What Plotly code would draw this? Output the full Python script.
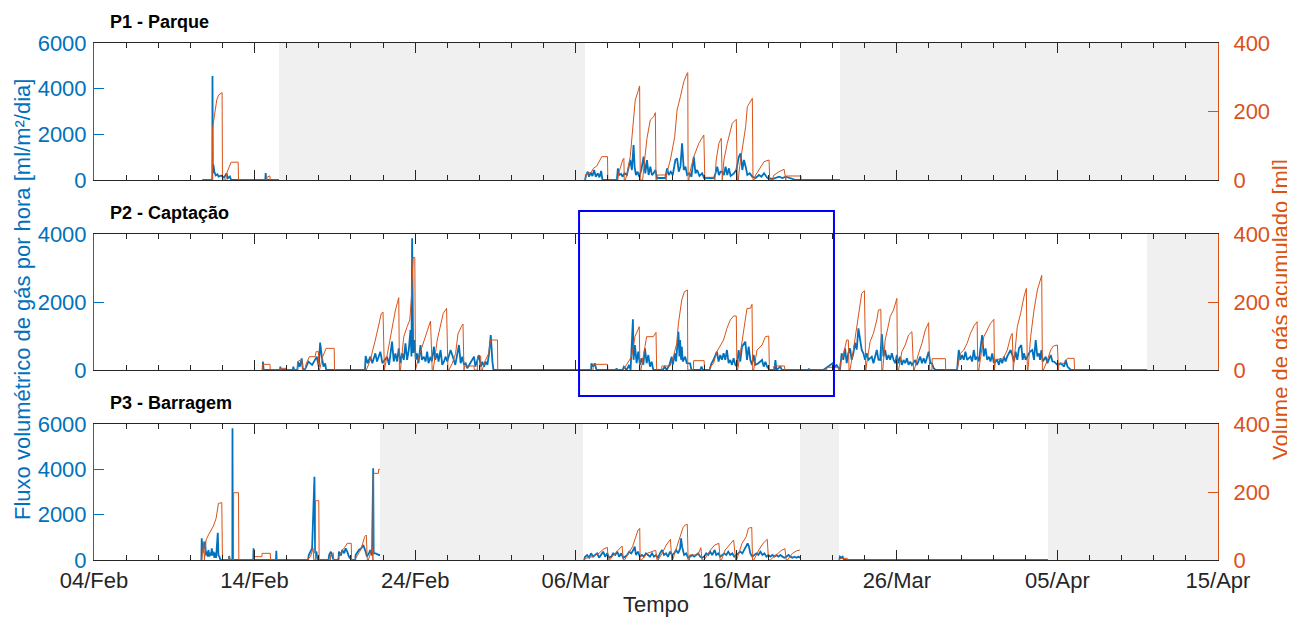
import pandas as pd
import plotly.graph_objects as go
from plotly.subplots import make_subplots

# ---------------- data (time = hours since 04/Feb 00:00) ----------------
START = "2019-02-04"
END_HOURS = 1680  # 15/Apr

panel_titles = ["P1 - Parque", "P2 - Captação", "P3 - Barragem"]
flux_ranges = [6000, 4000, 6000]
vol_range = 400

# P1 - accumulated volume [ml]
p1_vol = [(162, 0), (177, 0), (177.2, 151), (180.8, 204), (183.5, 234), (186.2, 248), (190.4, 255), (191.5, 255), (192, 0),
          (197, 0), (198.4, 20), (201.1, 34), (204.9, 52), (215.5, 52), (216, 0), (258, 0), (258.6, 8), (263, 12), (263.2, 0),
          (276.5, 0), (None, None),
          (734, 0), (736.5, 19.5), (743, 21.4), (746.5, 34.1), (751.5, 40.9), (756.5, 58.4), (759, 68.2), (767.5, 68.2), (768, 0),
          (783, 0), (784, 19.5), (788, 43.8), (790, 58.4), (792, 63.3), (792.5, 0),
          (794, 0), (796.5, 14.6), (801.5, 68.2), (806.5, 175.2), (809, 233.6), (813, 257.9), (815.5, 274.5), (816.5, 0),
          (820, 0), (823, 58.4), (826.5, 121.7), (831.5, 175.2), (836.5, 184.9), (839, 196.6), (840, 0),
          (841.5, 0), (842, 14.6), (854, 14.6), (855, 0),
          (856, 19.5), (861.5, 58.4), (868, 126.5), (871.5, 204.4), (876.5, 243.3), (881.5, 287.1), (886.5, 311.5), (887.5, 313.4), (888, 0),
          (889, 0), (891.5, 29.2), (896.5, 68.2), (904, 107.1), (911.5, 131.4), (913, 0),
          (914, 7.8), (926.5, 7.8), (927.5, 0),
          (928, 0), (930, 58.4), (934, 107.1), (937.5, 121.7), (938, 0),
          (939, 0), (941.5, 58.4), (946.5, 107.1), (954, 165.5), (960, 177.2), (961.5, 0),
          (963, 0), (965, 39), (969, 87.6), (974, 155.7), (976.5, 214.1), (981.5, 228.7), (984, 238.5), (985, 0),
          (986.5, 0), (989, 14.6), (994, 29.2), (1001.5, 53.5), (1009, 58.4), (1010, 0),
          (1013, 0), (1016.5, 14.6), (1024, 24.3), (1031.5, 31.2), (1034, 0),
          (1034.5, 11.7), (1056.5, 11.7), (1057, 0), (1115, 0)]

# P1 - hourly gas flux [ml/m2/dia]
p1_flux = [(162, 0), (176.8, 0), (177.1, 4550), (177.6, 300), (178.2, 686), (180, 350), (182, 200), (184.6, 250), (186.2, 150),
           (190, 200), (194.3, 100), (198, 292), (200, 80), (203, 150), (205, 0), (256, 0), (256.6, 300), (257.2, 0), (276.5, 0),
           (None, None),
           (734, 0), (735.5, 219), (738, 365), (740, 146), (742.5, 321), (745, 175), (747.5, 438), (750, 146), (753, 292),
           (755.5, 117), (758, 394), (760, 0), (781.5, 0), (783, 511), (785, 219), (788, 263), (790, 146), (793, 292),
           (796.5, 219), (799, 584), (801.5, 876), (804, 438), (806.5, 1533), (808, 584), (810, 219), (812.5, 365), (815, 146),
           (818, 438), (821.5, 1022), (824, 292), (826.5, 876), (829, 219), (831.5, 584), (834, 219), (836.5, 292), (839, 438),
           (841.5, 88), (854, 88), (856.5, 511), (859, 219), (862, 365), (865, 219), (869, 876), (871.5, 949), (874, 365),
           (876.5, 584), (879, 1606), (881.5, 438), (884, 584), (886.5, 219), (890, 292), (893, 146), (896.5, 1022), (899, 292),
           (901.5, 438), (905, 175), (909, 292), (912, 88), (926.5, 88), (929, 292), (931.5, 584), (934, 219), (936.5, 365),
           (939, 365), (941.5, 219), (944, 584), (946.5, 219), (949, 511), (951.5, 175), (956.5, 292), (960, 438), (964, 1022),
           (966.5, 1168), (969, 438), (971.5, 876), (974, 584), (976.5, 219), (980, 292), (984, 146), (989, 88), (994, 219),
           (997.5, 146), (1001.5, 292), (1006.5, 88), (1014, 44), (1024, 146), (1029, 88), (1034, 146), (1044, 44), (1049, 0),
           (1115, 0)]

# P2 - accumulated volume [ml]
p2_vol = [(252, 0), (252.2, 16.7), (263, 16.7), (263.5, 0), (279, 0), (279.2, 4.9), (287, 4.9), (287.5, 0),
          (304, 0), (304.5, 24.5), (310.5, 31.4), (312, 0), (315.5, 0), (317, 17.6), (322, 39.2), (330.5, 39.2), (332, 54),
          (335.5, 54), (336, 0), (337, 0), (342, 40), (347, 63.7), (359, 63.7), (359.5, 0),
          (407, 0), (413, 29.4), (420.5, 88.2), (425.5, 127.4), (429.5, 166.6), (432, 170.5), (433, 0),
          (434, 0), (440.5, 68.6), (445.5, 127.4), (450.5, 176.4), (455.5, 212.7), (456.5, 0),
          (458, 0), (463, 98), (468, 127.4), (472, 147), (474.5, 215.6), (477, 331.2), (479.5, 331.2), (480, 0),
          (480.5, 0), (485.5, 39.2), (490.5, 68.6), (498, 117.6), (501.5, 132.3), (503, 144.1), (505.5, 0),
          (507, 0), (513, 88.2), (518, 137.2), (522, 166.6), (527, 181.3), (529, 0),
          (530.5, 0), (535.5, 19.6), (540.5, 49), (544, 105.8), (549, 127.4), (551.5, 135.2), (553, 0),
          (554, 11.8), (568, 11.8), (568.5, 0), (573, 0), (573.2, 41), (578, 41), (578.5, 0),
          (580.5, 0), (584, 24.5), (590, 49), (592.5, 88.2), (603, 88.2), (603.5, 0),
          (746, 0), (746.2, 16.7), (767.5, 16.7), (768, 0),
          (791, 0), (793.5, 7.8), (803.5, 39.2), (808.5, 98), (815, 127.4), (816, 0),
          (817.5, 0), (823.5, 68.6), (826, 98), (836, 98), (840, 110.8), (841, 0),
          (848.5, 0), (848.7, 11.8), (861, 11.8), (866, 39.2), (871, 78.4), (873.5, 137.2), (876, 171.5), (878.5, 205.8),
          (882.5, 230.3), (887, 235.2), (887.5, 0),
          (896, 0), (896.2, 27.4), (912, 27.4), (912.5, 0),
          (920, 0), (920.5, 7.8), (926, 19.6), (931, 53.9), (936, 73.5), (941, 88.2), (946, 122.5), (951, 147), (956, 158.8),
          (960, 158.8), (961, 0),
          (962, 0), (966, 49), (971, 117.6), (973.5, 156.8), (976, 181.3), (981, 181.3), (983.5, 193.1), (984.5, 0),
          (986, 0), (991, 58.8), (998.5, 73.5), (1003.5, 98), (1008.5, 100), (1009.5, 0),
          (1016, 0), (1016.2, 11.8), (1032, 11.8), (1032.5, 0),
          (1095, 0), (1095.5, 8), (1113, 8), (1113.5, 0),
          (1115, 0), (1115.5, 19.6), (1120, 44.1), (1125, 88.2), (1127.5, 88.2), (1128.5, 0),
          (1130, 0), (1135, 58.8), (1140, 127.4), (1145, 196), (1147.5, 225.4), (1151.5, 233.2), (1152.5, 0),
          (1153.5, 0), (1160, 83.3), (1165, 107.8), (1170, 147), (1172.5, 176.4), (1176, 178.4), (1177.5, 0),
          (1179, 0), (1182.5, 88.2), (1187.5, 132.3), (1190, 156.8), (1195, 176.4), (1200, 210.7), (1201, 0),
          (1202.5, 0), (1207.5, 53.9), (1212.5, 73.5), (1217.5, 102.9), (1222.5, 112.7), (1225, 0),
          (1226, 0), (1232.5, 49), (1237.5, 78.4), (1242.5, 117.6), (1247.5, 139.2), (1249, 0),
          (1252.5, 0), (1252.7, 33.3), (1272.5, 33.3), (1273, 0),
          (1290, 0), (1295, 49), (1300, 58.8), (1305, 78.4), (1310, 107.8), (1316, 132.3), (1320, 142.1), (1321, 0),
          (1322.5, 0), (1327.5, 68.6), (1330, 98), (1335, 117.6), (1340, 137.2), (1345, 149), (1346, 0),
          (1347.5, 31.4), (1358.5, 31.4), (1365, 58.8), (1370, 98), (1372.5, 107.8), (1373.5, 0),
          (1374, 0), (1380, 127.4), (1385, 166.6), (1390, 215.6), (1393.5, 240.1), (1395, 0),
          (1396, 0), (1400, 98), (1405, 176.4), (1410, 235.2), (1414, 262.6), (1416.5, 278.3), (1417.5, 0),
          (1419, 0), (1425, 29.4), (1430, 58.8), (1434, 70.6), (1440, 73.5), (1441.5, 0),
          (1442.5, 19.6), (1450, 19.6), (1455, 34.3), (1465, 34.3), (1465.5, 0), (1574, 0)]

# P2 - hourly gas flux [ml/m2/dia]
p2_flux = [(252, 0), (252.5, 245), (253.5, 0), (278, 0), (278.5, 98), (279, 0), (297, 0), (298, 98), (299, 0),
           (304, 0), (305, 245), (307.5, 98), (310.5, 343), (312, 49), (315, 0), (320.5, 245), (326, 150), (333, 392),
           (336, 100), (338, 804), (340.5, 392), (343, 100), (345.5, 196), (347, 0),
           (405, 0), (406, 412), (409, 196), (413, 392), (416, 200), (420.5, 490), (423, 250), (428, 539), (431, 200),
           (438, 392), (441, 150), (445.5, 833), (448, 250), (450.5, 490), (453, 250), (455.5, 637), (458, 200), (460.5, 490),
           (463, 300), (465.5, 784), (468, 300), (470.5, 588), (473, 1176), (474.5, 400), (475.5, 3872), (477, 500), (479, 882),
           (481, 300), (483, 490), (485, 200), (488, 735), (490, 300), (493, 392), (495.5, 250), (498, 539), (500, 200),
           (503, 392), (505, 250), (508, 686), (510, 300), (513, 490), (515, 250), (518, 588), (520.5, 150), (523, 245),
           (525.5, 392), (528, 250), (533, 588), (537, 343), (540, 150), (545.5, 735), (548, 200), (550.5, 392), (553, 150),
           (555.5, 196), (558, 50), (568, 392), (570, 100), (575.5, 441), (578, 100), (580.5, 245), (583, 100), (585.5, 245),
           (588, 150), (590.5, 490), (593, 1029), (595.5, 245), (597, 0),
           (743, 0), (743.5, 196), (746, 100), (748.5, 196), (751, 0), (780, 0), (781, 49), (782, 0),
           (790, 0), (792, 98), (796, 0), (800, 147), (802, 0), (805.5, 1490), (806.5, 300), (808.5, 735), (811, 200),
           (813.5, 539), (816, 150), (818.5, 343), (821, 150), (823.5, 637), (826, 200), (828.5, 441), (831, 100), (833.5, 245),
           (836, 0), (850, 0), (853, 98), (856, 0), (860, 147), (863.5, 392), (865, 150), (868.5, 490), (870, 250),
           (873.5, 1127), (875, 400), (876, 882), (877.5, 300), (878.5, 686), (880, 250), (883.5, 392), (886, 200), (891, 196),
           (893, 0), (906, 0), (908, 98), (910, 0),
           (920, 0), (923, 196), (926, 300), (931, 539), (933.5, 250), (936, 441), (938.5, 300), (941, 490), (943.5, 300),
           (946, 588), (948.5, 200), (951, 294), (953.5, 150), (956, 343), (958.5, 150), (961, 100), (963.5, 588), (966, 250),
           (968.5, 686), (971, 784), (973.5, 833), (976, 300), (978.5, 686), (981, 294), (983.5, 150), (986, 441),
           (988.5, 150), (993, 200), (998.5, 294), (1001, 100), (1003.5, 245), (1006, 100), (1010, 0),
           (1017, 0), (1018.5, 294), (1020, 0), (1026, 98), (1028, 0), (1068, 0), (1068.5, 49), (1069, 0),
           (1090, 0), (1097, 98), (1101, 147), (1104, 196), (1107, 98), (1110, 147), (1113, 50),
           (1115, 0), (1117.5, 490), (1120, 300), (1122.5, 637), (1125, 200), (1127.5, 490), (1130, 637), (1132.5, 300),
           (1135, 490), (1137.5, 800), (1140, 600), (1142.5, 1225), (1145, 882), (1147.5, 588), (1150, 490), (1152.5, 300),
           (1155, 490), (1157.5, 300), (1162.5, 392), (1165, 200), (1170, 588), (1172.5, 300), (1175, 294), (1177.5, 1058),
           (1180, 400), (1182.5, 588), (1185, 300), (1187.5, 441), (1190, 300), (1192.5, 490), (1195, 300), (1197.5, 200),
           (1200, 441), (1202.5, 200), (1205, 392), (1207.5, 150), (1210, 294), (1212.5, 200), (1215, 343), (1217.5, 150),
           (1220, 245), (1222.5, 150), (1227.5, 294), (1230, 150), (1235, 392), (1237.5, 200), (1240, 343), (1242.5, 200),
           (1247.5, 539), (1250, 200), (1252.5, 196), (1255, 50), (1258, 0),
           (1290, 0), (1292.5, 588), (1295, 300), (1297.5, 441), (1300, 300), (1302.5, 539), (1305, 300), (1310, 392),
           (1312.5, 250), (1315, 588), (1317.5, 300), (1320, 392), (1322.5, 250), (1327.5, 1029), (1330, 400), (1332.5, 637),
           (1335, 300), (1337.5, 392), (1340, 250), (1342.5, 490), (1345, 200), (1350, 294), (1352.5, 150), (1355, 343),
           (1357.5, 200), (1360, 392), (1362.5, 250), (1365, 400), (1370, 588), (1372.5, 441), (1375, 250), (1377.5, 539),
           (1380, 300), (1382.5, 637), (1386, 735), (1388, 300), (1390, 490), (1392.5, 300), (1399, 539), (1402.5, 588),
           (1405, 300), (1407.5, 882), (1410, 400), (1412.5, 490), (1414, 300), (1416, 588), (1418, 250), (1422.5, 392),
           (1425, 200), (1430, 441), (1432.5, 250), (1435, 245), (1440, 150), (1445, 196), (1450, 100), (1452.5, 294),
           (1455, 100), (1457.5, 49), (1460, 0), (1574, 0)]

# P3 - accumulated volume [ml]
p3_vol = [(161, 0), (162.5, 39), (164, 54), (165, 0), (166, 20), (167.5, 59), (171, 73.5), (174.5, 88.2), (178.5, 100),
          (182.5, 122.5), (186, 166.6), (191, 168.6), (192, 0), (201.5, 0), (202, 9.8), (203.5, 0),
          (208.5, 0), (208.7, 198), (216, 198), (216.5, 0), (239, 0), (239.5, 9.8), (251, 9.8), (251.2, 19.6), (263.5, 19.6),
          (264, 0), (318, 0), (323.5, 9.8), (327.5, 34.3), (328.5, 0), (331, 0), (331.2, 174.4), (336, 174.4), (336.5, 0),
          (353.5, 0), (353.7, 14.7), (357.5, 21.6), (358.5, 0),
          (363.5, 0), (368.5, 19.6), (371, 29.4), (374.5, 36.3), (378.5, 49), (384.5, 49), (385, 0),
          (389.5, 0), (393.5, 14.7), (398.5, 29.4), (401, 44.1), (404.5, 68.6), (407, 73.5), (408.5, 0),
          (410, 0), (413.5, 19.6), (416, 34.3), (417, 0), (417.3, 254.8), (425, 254.8), (425.3, 266.6), (427.5, 266.6),
          (None, None),
          (732.7, 0), (733, 4.9), (745.3, 9.8), (754.7, 19.6), (761, 31.4), (767.3, 37.2), (768.5, 0),
          (770.4, 0), (776.7, 14.7), (783, 29.4), (789.3, 41.2), (791.2, 0),
          (793, 0), (798.7, 19.6), (805, 39.2), (808.2, 58.8), (813.2, 88.2), (815.7, 93.1), (816.3, 0),
          (818.2, 0), (827, 19.6), (833.3, 24.5), (839.6, 28.4), (841.5, 0),
          (843.4, 0), (849, 19.6), (855.4, 44.1), (861.6, 60.8), (863.5, 0),
          (864.8, 0), (871.1, 39.2), (876.1, 68.6), (880.5, 96), (883.6, 102.9), (886.8, 104.9), (888, 0),
          (890, 0), (890.2, 14.7), (902.5, 14.7), (907, 36.3), (908.8, 0),
          (912, 0), (921.4, 29.4), (927.7, 44.1), (934, 49), (935.9, 0),
          (937.8, 0), (943.4, 29.4), (949.7, 44.1), (956, 58.8), (959.1, 0),
          (960.4, 0), (968.6, 49), (974.9, 68.6), (978, 93.1), (983.1, 96), (984.3, 0),
          (986.2, 0), (993.7, 29.4), (1000, 49), (1006.3, 60.8), (1008.2, 0),
          (1010.7, 0), (1022, 19.6), (1028.3, 29.4), (1032.7, 33.3), (1034.6, 0),
          (1036.5, 0), (1044, 19.6), (1050.4, 27.4), (1053.5, 29.4), (1055.2, 29.4),
          (None, None),
          (1114, 0), (1115, 4.9), (1126, 4.9), (1126.5, 0), (1426, 0)]

# P3 - hourly gas flux [ml/m2/dia]
p3_flux = [(160.5, 0), (161, 957), (162.5, 300), (163.5, 735), (165, 500), (166, 809), (167.5, 200), (168.5, 368),
           (170, 150), (171, 441), (172.5, 150), (173.5, 323), (175, 200), (176, 515), (177.5, 200), (178.5, 368), (180, 100),
           (181, 323), (182.5, 100), (183, 368), (185, 1205), (186, 200), (187.5, 147), (189, 0),
           (201.5, 0), (202, 176), (203, 0), (206.8, 0), (207, 5808), (207.4, 0), (238, 0), (238.5, 515), (239.2, 0),
           (272, 0), (272.5, 412), (273, 0),
           (320, 0), (321, 220), (323.5, 368), (326, 515), (329.5, 3675), (330.5, 300), (332.5, 368), (334, 0),
           (350.5, 0), (351.5, 220), (354, 368), (356, 147), (358, 0),
           (365.5, 0), (366, 368), (369, 200), (371, 441), (374, 300), (376, 515), (378.5, 368), (381, 150), (385, 0),
           (390.5, 0), (391, 220), (396, 441), (399.5, 515), (402.5, 662), (406, 368), (408, 150), (411, 300), (413, 441),
           (415.5, 200), (417.3, 4043), (418, 300), (421, 294), (426, 220), (427.5, 220),
           (None, None),
           (732.7, 0), (734, 147), (737, 221), (740, 100), (743, 294), (746, 147), (749, 221), (752, 294), (755, 100),
           (758, 221), (761, 367), (764, 147), (767, 294), (770, 100), (773, 147), (776, 294), (779, 221), (782, 367),
           (785, 147), (788, 294), (791, 100), (794, 147), (797, 221), (800, 367), (803, 294), (806, 441), (808.2, 588),
           (810, 221), (813, 367), (816, 147), (819, 221), (822, 147), (825, 294), (828, 221), (831, 147), (834, 294),
           (837, 147), (840, 221), (843, 100), (846, 294), (849, 441), (852, 221), (855, 294), (858, 147), (861, 367),
           (864, 221), (867, 294), (870, 441), (873, 294), (876, 500), (877.5, 956), (879, 588), (882, 221), (885, 294),
           (888, 100), (891, 147), (894, 221), (897, 147), (900, 221), (903, 294), (906, 147), (909, 100), (912, 147),
           (915, 294), (918, 221), (921, 367), (924, 221), (927.7, 441), (930, 221), (933, 294), (936, 147), (939, 221),
           (942, 294), (945, 221), (948, 367), (951, 221), (954, 294), (957, 147), (960, 221), (963, 294), (966, 367),
           (969, 294), (972, 441), (975, 588), (977, 735), (979, 588), (981, 294), (984, 147), (987, 221), (990, 294),
           (993, 221), (996, 367), (999, 221), (1002, 294), (1005, 147), (1008, 221), (1011, 147), (1014, 221), (1017, 147),
           (1020, 221), (1023, 147), (1026, 221), (1029, 147), (1032, 100), (1035, 147), (1038, 221), (1041, 147),
           (1044, 100), (1047, 147), (1050, 100), (1053, 147), (1055.2, 100),
           (None, None),
           (1114, 0), (1115, 147), (1117, 100), (1119, 147), (1121, 0), (1426, 0)]

# periods without measurements (grey), hours since 04/Feb
p1_gaps = [(276.5, 733.9), (1115, 1680)]
p2_gaps = [(1574, 1680)]
p3_gaps = [(427.5, 730.9), (1055.3, 1113.6), (1426, 1680)]

# highlighted period in P2 (hours since 04/Feb)
box_hours = (725, 1106)

# ---------------- helpers ----------------
BASE = pd.Timestamp(START)


def to_dt(h):
    return None if h is None else BASE + pd.Timedelta(hours=h)


def split(pairs):
    xs = [to_dt(h) for h, _ in pairs]
    ys = [v for _, v in pairs]
    return xs, ys


BLUE = "#0072BD"
ORANGE = "#D95319"
AXC = "#262626"
FONT = "Liberation Sans, Arial, Helvetica, sans-serif"

# page layout (screen pixels); the html body adds an 8 px offset
PAGE_W, PAGE_H, OFF = 1295, 617, 8
PL, PR, PT, PB = 94, 1218, 43, 560   # plot area on screen
W, H = PAGE_W - OFF, PAGE_H - OFF
ML, MT = PL - OFF, PT - OFF
MR, MB = W + OFF - PR, H + OFF - PB
plot_w, plot_h = PR - PL, PB - PT


def px_x(x):
    return (x - PL) / plot_w


def px_y(y):
    return (PB - y) / plot_h


# pixel rows of each panel (top, bottom)
rows_px = [(43, 180), (234, 370), (424, 560)]

fig = make_subplots(rows=3, cols=1, specs=[[{"secondary_y": True}]] * 3)

series = [(p1_flux, p1_vol), (p2_flux, p2_vol), (p3_flux, p3_vol)]
for i, (fl, vo) in enumerate(series):
    r = i + 1
    x, y = split(fl)
    fig.add_trace(go.Scatter(x=x, y=y, mode="lines", line=dict(color=BLUE, width=1.8),
                             connectgaps=False, showlegend=False, hoverinfo="skip"),
                  row=r, col=1, secondary_y=False)
    x, y = split(vo)
    fig.add_trace(go.Scatter(x=x, y=y, mode="lines", line=dict(color=ORANGE, width=1),
                             connectgaps=False, showlegend=False, hoverinfo="skip"),
                  row=r, col=1, secondary_y=True)

xrange_ = [to_dt(0), to_dt(END_HOURS)]
for i in range(3):
    r = i + 1
    fig.update_xaxes(row=r, col=1, type="date", range=xrange_, domain=[0, 1], showgrid=False, zeroline=False,
                     automargin=False, showline=True, linecolor=AXC, linewidth=1, mirror="ticks",
                     ticks="inside", ticklen=10, tickwidth=1, tickcolor=AXC,
                     tick0=START, dtick=10 * 86400000, tickformat="%d/%b",
                     minor=dict(ticks="inside", ticklen=5, tickwidth=1, tickcolor=AXC, dtick=2 * 86400000,
                                tick0=START, showgrid=False),
                     showticklabels=(r == 3), tickfont=dict(family=FONT, size=22, color=AXC),
                     ticklabelstandoff=1)
    dom = [px_y(rows_px[i][1]), px_y(rows_px[i][0])]
    fig.update_yaxes(row=r, col=1, secondary_y=False, domain=dom, range=[0, flux_ranges[i]], dtick=2000,
                     automargin=False,
                     showgrid=False, zeroline=False, showline=True, linecolor=BLUE, linewidth=1,
                     ticks="inside", ticklen=10, tickcolor=BLUE, tickfont=dict(family=FONT, size=22, color=BLUE),
                     ticklabelstandoff=2)
    fig.update_yaxes(row=r, col=1, secondary_y=True, domain=dom, range=[0, vol_range], dtick=200,
                     automargin=False,
                     showgrid=False, zeroline=False, showline=True, linecolor=ORANGE, linewidth=1,
                     ticks="inside", ticklen=10, tickcolor=ORANGE, tickfont=dict(family=FONT, size=22, color=ORANGE),
                     ticklabelstandoff=10)

fig.update_xaxes(row=3, col=1, title=dict(text="Tempo", font=dict(family=FONT, size=22, color=AXC), standoff=6))

# grey "no data" bands
xrefs = ["x", "x2", "x3"]
yrefs = ["y domain", "y3 domain", "y5 domain"]
for i, gaps in enumerate([p1_gaps, p2_gaps, p3_gaps]):
    for a, b in gaps:
        fig.add_shape(type="rect", xref=xrefs[i], yref=yrefs[i], x0=to_dt(a), x1=to_dt(b), y0=0, y1=1,
                      fillcolor="#F0F0F0", line=dict(width=0), layer="below")

# highlight box on P2
fig.add_shape(type="rect", xref="x2", yref="paper", x0=to_dt(box_hours[0]), x1=to_dt(box_hours[1]),
              y0=px_y(396), y1=px_y(211),
              line=dict(color="#0000FF", width=2), fillcolor="rgba(0,0,0,0)")

# panel titles
title_y_px = [22, 213, 403]
for t, ypx in zip(panel_titles, title_y_px):
    fig.add_annotation(text="<b>%s</b>" % t, xref="paper", yref="paper", x=px_x(108),
                       y=px_y(ypx), xanchor="left", yanchor="middle", showarrow=False,
                       font=dict(family=FONT, size=18, color="#000000"))

# shared axis labels
fig.add_annotation(text="Fluxo volumétrico de gás por hora [ml/m²/dia]", xref="paper", yref="paper",
                   x=px_x(22), y=px_y(300), textangle=-90, showarrow=False,
                   xanchor="center", yanchor="middle", font=dict(family=FONT, size=22, color=BLUE))
fig.add_annotation(text="Volume de gás acumulado [ml]", xref="paper", yref="paper",
                   x=px_x(1280), y=px_y(310), textangle=-90, showarrow=False,
                   xanchor="center", yanchor="middle", font=dict(family=FONT, size=22, color=ORANGE))

fig.update_layout(width=W, height=H, margin=dict(l=ML, r=MR, t=MT, b=MB, autoexpand=False),
                  plot_bgcolor="white", paper_bgcolor="white", showlegend=False,
                  font=dict(family=FONT, color=AXC))

fig.write_html("out.html")
